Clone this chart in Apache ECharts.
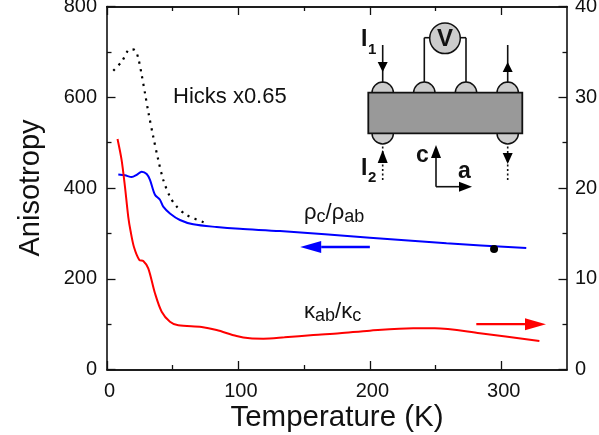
<!DOCTYPE html>
<html><head><meta charset="utf-8">
<style>html,body{margin:0;padding:0;background:#fff}#c{width:599px;height:435px}</style>
<script src="https://cdn.jsdelivr.net/npm/echarts@6/dist/echarts.min.js"></script></head>
<body><div id="c"></div>
<script>
const xMajor=[0,100,200,300];
const xMinor=[50,150,250];
const blueT=[8.6,13.7,18.8,22.6,26.4,30.2,32.7,36.5,40.3,42.8,47.9,55.5,65.6,83.4,101,131.6,200,258.3,319];
const blueV=[430,428,424,429,436,431,418,385,374,359,344,329.5,320,314,310,305,290.5,278,268];
const redT=[8,11.1,13.7,16.2,18,20.5,24.6,27.6,31.4,36.5,41.6,47.9,54.2,72,83.4,98.6,108.7,118.9,135,157,177,200,233,249.4,283.7,329];
const redV=[25.4,23.1,20.1,16.8,15.2,13.5,12.07,11.96,11.15,8.4,6.37,5.27,4.87,4.68,4.35,3.69,3.44,3.4,3.55,3.8,3.99,4.28,4.54,4.54,3.99,3.14];
const hicksT=[4.8,11.1,17.5,21.3,23.8,26.4,28.9,31.4,35.2,39,42.8,47.9,53,60.6,75];
const hicksV=[658.6,678,705.7,704,686,649,609,568,513,462,418,381,359,340.5,323];
const pointT=[294.5];
const pointV=[265.6];
const blueArrow=[[200,270],[147,270]];
const redArrow=[[281,5],[334,5]];
const FONT='"Liberation Sans",Arial,sans-serif';
const zip=(a,b)=>a.map((v,i)=>[v,b[i]]);
const rect={left:107,top:6.5,width:460,height:363,outerBoundsMode:'none',containLabel:false};
const axLine={show:true,lineStyle:{color:'#111',width:1.6}};
function xAxis(grid,pos,vals,len,labels,name){
  return {type:'value',gridIndex:grid,position:pos,min:0,max:350,interval:50,splitLine:{show:false},
    axisLine:Object.assign({onZero:false},axLine),
    axisTick:{show:true,inside:true,length:len,customValues:vals,lineStyle:{color:'#111',width:1.3}},
    axisLabel:labels?{show:true,customValues:xMajor,fontFamily:FONT,fontSize:20,color:'#111',margin:12,padding:[0,0,0,5]}:{show:false},
    name:name||'',nameLocation:'middle',nameGap:33,nameMoveOverlap:false,nameTextStyle:{fontFamily:FONT,fontSize:29.5,color:'#111'}};
}
function yAxis(pos,max,interval,name){
  return {type:'value',gridIndex:0,position:pos,min:0,max:max,interval:interval,splitLine:{show:false},
    axisLine:Object.assign({onZero:false},axLine),
    axisTick:{show:true,inside:true,length:8.5,lineStyle:{color:'#111',width:1.3}},
    minorTick:{show:true,splitNumber:2,length:4.5,lineStyle:{color:'#111',width:1.3}},
    axisLabel:{show:true,fontFamily:FONT,fontSize:20,color:'#111',margin:pos==='left'?10:8,padding:[2,0,0,0]},
    name:name||'',nameLocation:'middle',nameGap:62,nameMoveOverlap:false,nameTextStyle:{fontFamily:FONT,fontSize:29,color:'#111'}};
}
const chart=echarts.init(document.getElementById('c'),null,{renderer:'canvas'});
const option={
  animation:false,backgroundColor:'#fff',
  grid:[Object.assign({},rect),Object.assign({},rect)],
  xAxis:[xAxis(0,'bottom',xMajor,8.5,true,'Temperature (K)'),xAxis(0,'top',xMajor,8.5,false),
         xAxis(1,'bottom',xMinor,4.5,false),xAxis(1,'top',xMinor,4.5,false)],
  yAxis:[yAxis('left',800,200,'Anisotropy'),yAxis('right',40,10),
         {type:'value',gridIndex:1,min:0,max:800,show:false}],
  series:[
    {name:'Hicks x0.65',type:'line',xAxisIndex:0,yAxisIndex:0,data:zip(hicksT,hicksV),smooth:0.3,showSymbol:false,lineStyle:{color:'#000',width:2.2,type:[2.2,5.3]}},
    {name:'rho',type:'line',xAxisIndex:0,yAxisIndex:0,data:zip(blueT,blueV),smooth:0.3,showSymbol:false,lineStyle:{color:'#00f',width:2}},
    {name:'kappa',type:'line',xAxisIndex:0,yAxisIndex:1,data:zip(redT,redV),smooth:0.3,showSymbol:false,lineStyle:{color:'#f00',width:2}},
    {name:'point',type:'scatter',xAxisIndex:0,yAxisIndex:0,z:5,data:zip(pointT,pointV),symbol:'circle',symbolSize:8,itemStyle:{color:'#000',opacity:1}}
  ]
};
chart.setOption(option);
function arrow(pts,yAxisIndex,color){
  const a=chart.convertToPixel({xAxisIndex:0,yAxisIndex},pts[0]);
  const b=chart.convertToPixel({xAxisIndex:0,yAxisIndex},pts[1]);
  const d=b[0]>a[0]?1:-1, base=b[0]-d*21;
  return [
    {type:'line',shape:{x1:a[0],y1:a[1],x2:base,y2:b[1]},style:{stroke:color,lineWidth:2.4}},
    {type:'polygon',shape:{points:[[b[0],b[1]],[base,b[1]-6],[base,b[1]+6]]},style:{fill:color}}
  ];
}
const ink='#111',hi='#ccc';
const dome=(x,y,up)=>({type:'sector',shape:{cx:x,cy:y,r0:0,r:10.7,startAngle:up?Math.PI:0,endAngle:up?2*Math.PI:Math.PI},
   style:{fill:hi,stroke:ink,lineWidth:1.4}});
const ln=(x1,y1,x2,y2,dash)=>({type:'line',shape:{x1,y1,x2,y2},style:{stroke:ink,lineWidth:1.6,lineDash:dash?[2,2.5]:null}});
const tri=(x,tip,base)=>({type:'polygon',shape:{points:[[x,tip],[x-5,base],[x+5,base]]},style:{fill:'#000'}});
const txt=(x,y,text,extra)=>({type:'text',x,y,style:Object.assign({text,fill:'#111',font:'22px '+FONT,verticalAlign:'middle'},extra||{})});
const rich=(x,y,text,size,sub)=>({type:'text',x,y,style:{text,fill:'#111',fontFamily:FONT,fontSize:size,verticalAlign:'middle',
   rich:{s:{fontFamily:FONT,fontSize:sub,fill:'#111',verticalAlign:'bottom',padding:[8,0,0,0]}}}});
chart.setOption({graphic:{elements:[
  ...arrow(blueArrow,0,'#00f'),...arrow(redArrow,1,'#f00'),
  txt(173,97,'Hicks x0.65'),
  rich(304,213,'ρ{s|c}/ρ{s|ab}',22,18),
  rich(304,312,'κ{s|ab}/κ{s|c}',22,18),
  ln(424.3,83,424.3,37.7),ln(424.3,37.7,431,37.7),ln(466,83,466,37.7),ln(466,37.7,459,37.7),
  {type:'circle',shape:{cx:445,cy:38.3,r:15.3},style:{fill:hi,stroke:ink,lineWidth:1.5}},
  txt(445,39,'V',{font:'bold 24px '+FONT,align:'center'}),
  dome(382.7,92.7,true),dome(424.3,92.7,true),dome(466,92.7,true),dome(507.7,92.7,true),
  dome(382.7,133.3,false),dome(507.7,133.3,false),
  {type:'rect',shape:{x:368.3,y:92.7,width:154,height:40.6},style:{fill:'#999',stroke:ink,lineWidth:1.8}},
  ln(382.7,45,382.7,83),tri(382.7,72,62),
  ln(507.7,45,507.7,83),tri(507.7,62,72),
  ln(382.7,180,382.7,146,true),tri(382.7,150,163),
  ln(507.7,180,507.7,146,true),tri(507.7,164,153),
  ln(436,186.7,436,150),tri(436,145,158),
  ln(436,186.7,465,186.7),
  {type:'polygon',shape:{points:[[472,186.7],[459,181.7],[459,191.7]]},style:{fill:'#000'}},
  txt(361,40,'I',{font:'bold 23px '+FONT}),txt(368,50,'1',{font:'bold 15px '+FONT}),
  txt(361,169,'I',{font:'bold 23px '+FONT}),txt(368,178,'2',{font:'bold 15px '+FONT}),
  txt(416,156,'c',{font:'bold 23px '+FONT}),
  txt(458,172,'a',{font:'bold 23px '+FONT})
]}});
</script></body></html>
